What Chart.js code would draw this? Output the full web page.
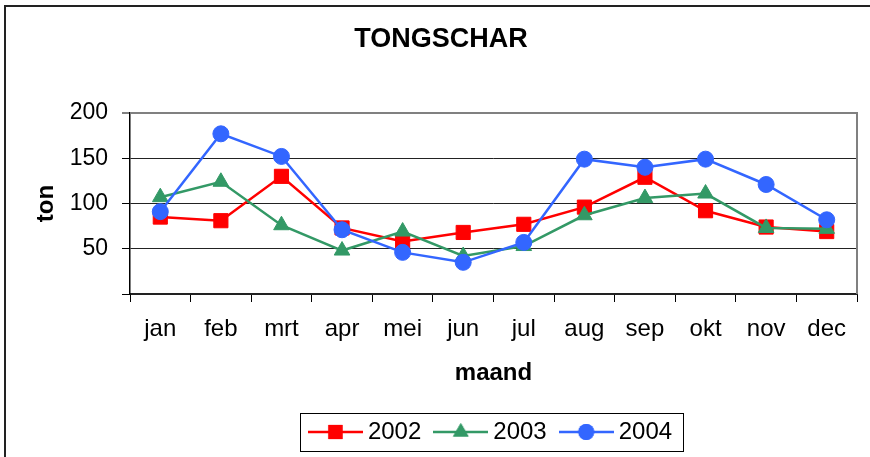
<!DOCTYPE html>
<html>
<head>
<meta charset="utf-8">
<script src="https://cdn.jsdelivr.net/npm/chart.js@4/dist/chart.umd.min.js"></script>
<style>
  html, body { margin: 0; padding: 0; background: #fff; }
  #wrap { width: 870px; height: 457px; }
</style>
</head>
<body>
<div id="wrap"><canvas id="chart" width="870" height="457"></canvas></div>
<script>
'use strict';

// ─── Data ────────────────────────────────────────────────────────────────────
const months = ['jan', 'feb', 'mrt', 'apr', 'mei', 'jun', 'jul', 'aug', 'sep', 'okt', 'nov', 'dec'];
const years = ['2002', '2003', '2004'];
const ton2002 = [85, 81, 130, 73, 58, 68, 77, 96, 129, 92, 74, 69];
const ton2003 = [107, 124, 76, 48, 69, 42, 53, 87, 106, 111, 73, 72];
const ton2004 = [91, 177, 152, 71, 46, 35, 57, 149, 140, 149, 121, 82];
const yTicks = [0, 50, 100, 150, 200];

const FONT = "'Liberation Sans', Arial, sans-serif";
const colors = { red: '#ff0000', green: '#339966', blue: '#3366ff' };
const styles = [
  { color: colors.red,   shape: 'rect',     radius: 10 },
  { color: colors.green, shape: 'triangle', radius: 9 },
  { color: colors.blue,  shape: 'circle',   radius: 8 },
];

// legend glyph: short line with the marker in the middle
function legendGlyph(st) {
  const c = document.createElement('canvas');
  c.width = 55; c.height = 22;
  const g = c.getContext('2d');
  g.strokeStyle = st.color; g.lineWidth = 2.5;
  g.beginPath(); g.moveTo(0, 11); g.lineTo(55, 11); g.stroke();
  g.fillStyle = st.color;
  Chart.helpers.drawPoint(g, { pointStyle: st.shape, radius: st.radius, borderWidth: 0 }, 27.5, 11);
  g.fill();
  return c;
}

// ─── Decorations: outer frame, plot border, legend box ───────────────────────
const decor = {
  id: 'decor',
  beforeDraw(chart) {
    const ctx = chart.ctx;
    ctx.save();
    ctx.fillStyle = '#fff';
    ctx.fillRect(0, 0, chart.width, chart.height);
    ctx.strokeStyle = '#222';
    ctx.lineWidth = 2;
    ctx.beginPath();
    ctx.moveTo(5, chart.height + 2);
    ctx.lineTo(5, 6);
    ctx.lineTo(chart.width + 2, 6);
    ctx.stroke();
    ctx.restore();
  },
  beforeDatasetsDraw(chart) {
    const { ctx, chartArea: a } = chart;
    ctx.save();
    ctx.strokeStyle = '#808080';
    ctx.lineWidth = 2;
    ctx.beginPath();
    ctx.moveTo(a.left, a.top);
    ctx.lineTo(a.right, a.top);
    ctx.lineTo(a.right, a.bottom);
    ctx.stroke();
    ctx.restore();
  },
  afterDraw(chart) {
    const hb = chart.legend && chart.legend.legendHitBoxes;
    if (!hb || !hb.length) return;
    const ctx = chart.ctx;
    const first = hb[0], last = hb[hb.length - 1];
    const cy = first.top + first.height / 2;
    const x0 = first.left - 15, x1 = last.left + last.width + 11;
    ctx.save();
    ctx.strokeStyle = '#000';
    ctx.lineWidth = 1;
    ctx.strokeRect(Math.round(x0) + 0.5, Math.round(cy - 19) + 0.5, Math.round(x1 - x0), 38);
    ctx.restore();
  }
};

// ─── Chart ───────────────────────────────────────────────────────────────────
const series = [ton2002, ton2003, ton2004];

new Chart(document.getElementById('chart'), {
  type: 'line',
  data: {
    labels: months,
    datasets: series.map((vals, i) => ({
      label: years[i],
      data: vals,
      borderColor: styles[i].color,
      backgroundColor: styles[i].color,
      borderWidth: 2.5,
      pointStyle: styles[i].shape,
      pointRadius: styles[i].radius,
      pointBorderWidth: 1,
      pointBorderColor: styles[i].color,
      pointBackgroundColor: styles[i].color,
      tension: 0,
      order: 2 - i,
    }))
  },
  options: {
    responsive: false,
    animation: false,
    events: [],
    layout: { padding: { left: 12, right: 0, top: 0, bottom: 3 } },
    plugins: {
      tooltip: { enabled: false },
      title: {
        display: true,
        text: 'TONGSCHAR',
        color: '#000',
        font: { family: FONT, size: 27, weight: 'bold' },
        padding: { top: 23.4, bottom: 57.2 },
      },
      legend: {
        position: 'bottom',
        fullSize: false,
        labels: {
          usePointStyle: true,
          pointStyleWidth: 41,
          padding: 19,
          color: '#000',
          font: { family: FONT, size: 24 },
          generateLabels: chart => chart.data.datasets.map((ds, i) => ({
            text: ds.label,
            fillStyle: ds.borderColor,
            strokeStyle: ds.borderColor,
            lineWidth: 0,
            pointStyle: legendGlyph(styles[i]),
            hidden: false,
            datasetIndex: i,
          })),
        },
      },
    },
    scales: {
      x: {
        offset: true,
        grid: { display: true, drawOnChartArea: false, drawTicks: true, tickLength: 8, color: '#000', offset: true },
        border: { display: true, color: '#222', width: 2 },
        ticks: { color: '#000', font: { family: FONT, size: 24 }, padding: 13, maxRotation: 0, autoSkip: false },
        title: {
          display: true, text: 'maand', color: '#000',
          font: { family: FONT, size: 24, weight: 'bold' },
          padding: { top: 0, bottom: 13 },
        },
        afterFit: s => { s.height = 107; },
      },
      y: {
        min: yTicks[0],
        max: yTicks[yTicks.length - 1],
        afterBuildTicks: s => { s.ticks = yTicks.map(v => ({ value: v })); },
        grid: {
          color: c => (c.tick && c.tick.value === 200 ? '#808080' : '#222'),
          lineWidth: c => (c.tick && c.tick.value === 200 ? 2 : 1),
          tickColor: '#000',
          tickWidth: 1,
          tickLength: 8,
        },
        border: { display: true, color: '#000', width: 1.5 },
        ticks: {
          color: '#000',
          font: { family: FONT, size: 23 },
          padding: 14,
          callback: v => (v === 0 ? '' : String(v)),
        },
        title: {
          display: true, text: 'ton', color: '#000',
          font: { family: FONT, size: 24, weight: 'bold' },
          padding: { top: 19.6, bottom: 0 },
        },
        afterFit: s => { s.width = 118; },
      },
      pad: {
        type: 'linear',
        position: 'right',
        display: true,
        grid: { display: false },
        border: { display: false },
        ticks: { display: false },
        afterFit: s => { s.width = 13; },
      },
    },
  },
  plugins: [decor],
});
</script>
</body>
</html>
